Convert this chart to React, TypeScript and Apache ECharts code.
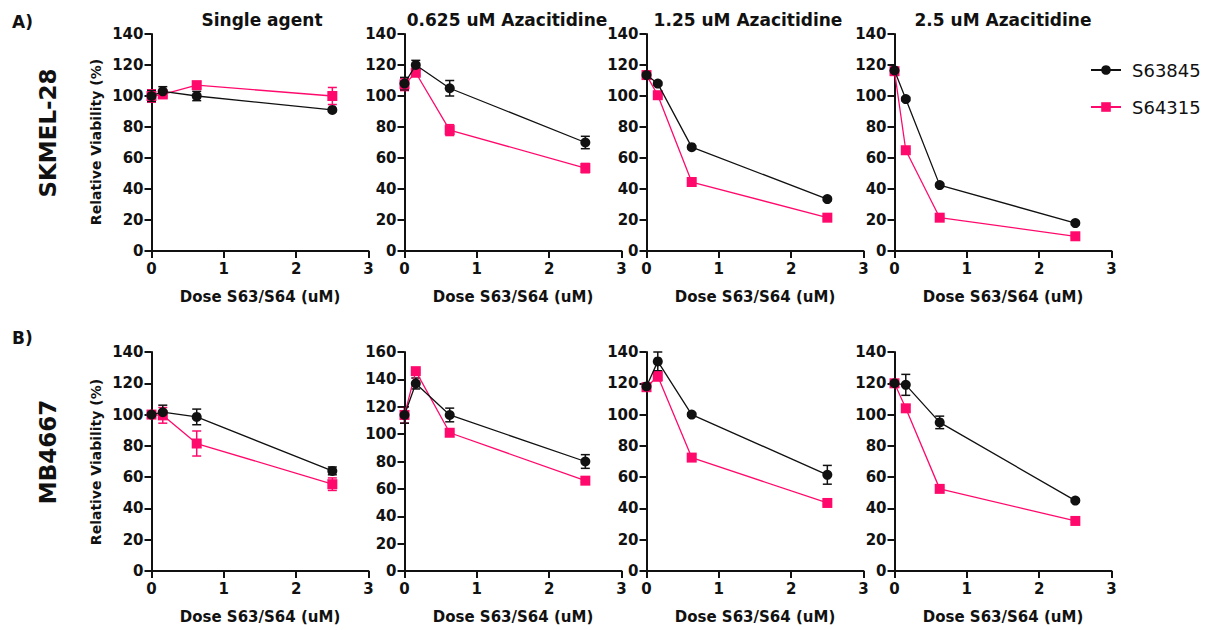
import React, { useEffect, useRef } from "react";
import * as echarts from "echarts";

const doses = [0, 0.156, 0.625, 2.5];
const panelTitles = ["Single agent", "0.625 uM Azacitidine", "1.25 uM Azacitidine", "2.5 uM Azacitidine"];
const seriesNames = ["S63845", "S64315"];
const cellLines = ["SKMEL-28", "MB4667"];
const rowTags = ["A)", "B)"];
const yMaxSkmel = [140, 140, 140, 140];
const yMaxMb = [140, 160, 140, 140];

// SKMEL-28 (row A)
const skmelS63 = [[100, 103, 100, 91], [108, 120, 105, 70], [113.5, 108, 67, 33.5], [116.5, 98, 42.5, 18]];
const skmelS63Err = [[3.5, 3, 3, 1], [4, 3, 5, 4], [1, 1, 1, 1], [1, 1, 1, 1]];
const skmelS64 = [[100, 101, 107, 100], [107.5, 115, 78, 53.5], [113.5, 100.5, 44.5, 21.5], [116, 65, 21.5, 9.5]];
const skmelS64Err = [[4, 2, 2, 5.5], [4, 1.5, 3.5, 3], [1, 1, 1, 1], [1, 1, 1, 1]];

// MB4667 (row B)
const mbS63 = [[100, 101.5, 98.5, 64], [114, 137, 114, 80], [118, 134, 100, 61.5], [120, 119, 95, 45]];
const mbS63Err = [[1.5, 4.5, 5, 2.5], [6, 4, 5, 5], [1.5, 6, 1, 6], [1, 6.7, 4, 1]];
const mbS64 = [[100, 99.5, 81.5, 55.5], [114, 146, 101, 66], [117.5, 124.5, 72.5, 43.5], [120, 104, 52.5, 32]];
const mbS64Err = [[1.5, 5, 8, 4], [6, 1, 1, 1], [1, 3, 2, 1], [1, 2, 1, 1]];

const FONT = "DejaVu Sans";
const BLACK = "#111111";
const PINK = "#FF0A6C";

export default function App() {
  const ref = useRef<HTMLDivElement>(null);
  useEffect(() => {
    const chart = echarts.init(ref.current!, null, { renderer: "svg" });
    const colLeft = [151.5, 404.5, 646.5, 894.5];
    const rowTop = [34, 352];
    const rowH = [217, 219];
    const plotW = 217;
    const rows = [
      { s63: skmelS63, e63: skmelS63Err, s64: skmelS64, e64: skmelS64Err, ymax: yMaxSkmel },
      { s63: mbS63, e63: mbS63Err, s64: mbS64, e64: mbS64Err, ymax: yMaxMb },
    ];
    const grid: any[] = [];
    const xAxis: any[] = [];
    const yAxis: any[] = [];
    const series: any[] = [];
    const errRender = (color: string) => (params: any, api: any) => {
      const x = api.value(0);
      const p1 = api.coord([x, api.value(1)]);
      const p2 = api.coord([x, api.value(2)]);
      const hw = 4.5;
      const st = { stroke: color, lineWidth: 1.5 };
      return {
        type: "group",
        children: [
          { type: "line", shape: { x1: p1[0], y1: p1[1], x2: p2[0], y2: p2[1] }, style: st },
          { type: "line", shape: { x1: p1[0] - hw, y1: p1[1], x2: p1[0] + hw, y2: p1[1] }, style: st },
          { type: "line", shape: { x1: p2[0] - hw, y1: p2[1], x2: p2[0] + hw, y2: p2[1] }, style: st },
        ],
      };
    };
    let gi = 0;
    rows.forEach((row, r) => {
      for (let c = 0; c < 4; c++) {
        grid.push({ left: colLeft[c], top: rowTop[r], width: plotW, height: rowH[r] });
        xAxis.push({
          type: "value", gridIndex: gi, min: 0, max: 3, interval: 1,
          splitLine: { show: false },
          axisLine: { show: true, onZero: false, lineStyle: { color: BLACK, width: 2 } },
          axisTick: { show: true, length: 7, lineStyle: { color: BLACK, width: 2 } },
          axisLabel: { margin: 10, fontFamily: FONT, fontWeight: "bold", fontSize: 15, color: BLACK },
          name: "Dose S63/S64 (uM)", nameLocation: "middle", nameGap: 38,
          nameTextStyle: { fontFamily: FONT, fontWeight: "bold", fontSize: 15, color: BLACK },
        });
        yAxis.push({
          type: "value", gridIndex: gi, min: 0, max: row.ymax[c], interval: 20,
          splitLine: { show: false },
          axisLine: { show: true, onZero: false, lineStyle: { color: BLACK, width: 2 } },
          axisTick: { show: true, length: 7, lineStyle: { color: BLACK, width: 2 } },
          axisLabel: { margin: 8, fontFamily: FONT, fontWeight: "bold", fontSize: 15, color: BLACK },
        });
        const d63 = doses.map((x, i) => [x, row.s63[c][i]]);
        const d64 = doses.map((x, i) => [x, row.s64[c][i]]);
        const e63 = doses.map((x, i) => [x, row.s63[c][i] - row.e63[c][i], row.s63[c][i] + row.e63[c][i]]);
        const e64 = doses.map((x, i) => [x, row.s64[c][i] - row.e64[c][i], row.s64[c][i] + row.e64[c][i]]);
        series.push({
          type: "custom", xAxisIndex: gi, yAxisIndex: gi, renderItem: errRender(PINK),
          data: e64, encode: { x: 0, y: [1, 2] }, z: 2, silent: true,
        });
        series.push({
          type: "custom", xAxisIndex: gi, yAxisIndex: gi, renderItem: errRender(BLACK),
          data: e63, encode: { x: 0, y: [1, 2] }, z: 2, silent: true,
        });
        series.push({
          name: seriesNames[1], type: "line", xAxisIndex: gi, yAxisIndex: gi, data: d64,
          symbol: "rect", symbolSize: 10, lineStyle: { color: PINK, width: 1.3 },
          itemStyle: { color: PINK }, z: 3,
        });
        series.push({
          name: seriesNames[0], type: "line", xAxisIndex: gi, yAxisIndex: gi, data: d63,
          symbol: "circle", symbolSize: 10, lineStyle: { color: BLACK, width: 1.3 },
          itemStyle: { color: BLACK }, z: 4,
        });
        gi++;
      }
    });

    const titleX = [262, 507, 748, 1003];
    const graphic: any[] = [];
    panelTitles.forEach((t, i) => {
      graphic.push({
        type: "text", x: titleX[i], y: 20,
        style: { text: t, fontFamily: FONT, fontWeight: "bold", fontSize: 17, fill: BLACK, textAlign: "center", textVerticalAlign: "middle" },
      });
    });
    const tagY = [22, 338];
    const cellY = [133, 452];
    const ylabY = [142, 462];
    for (let r = 0; r < 2; r++) {
      graphic.push({
        type: "text", x: 12, y: tagY[r],
        style: { text: rowTags[r], fontFamily: FONT, fontWeight: "bold", fontSize: 17, fill: BLACK, textAlign: "left", textVerticalAlign: "middle" },
      });
      graphic.push({
        type: "text", x: 48, y: cellY[r], rotation: Math.PI / 2,
        style: { text: cellLines[r], fontFamily: FONT, fontWeight: "bold", fontSize: 23, fill: BLACK, textAlign: "center", textVerticalAlign: "middle" },
      });
      graphic.push({
        type: "text", x: 95.5, y: ylabY[r], rotation: Math.PI / 2,
        style: { text: "Relative Viability (%)", fontFamily: FONT, fontWeight: "bold", fontSize: 14, fill: BLACK, textAlign: "center", textVerticalAlign: "middle" },
      });
    }

    chart.setOption({
      animation: false,
      backgroundColor: "#ffffff",
      grid, xAxis, yAxis, series, graphic,
      legend: {
        data: seriesNames, orient: "vertical", left: 1085, top: 56,
        itemWidth: 30, itemHeight: 12, itemGap: 19,
        textStyle: { fontFamily: FONT, fontSize: 18, color: BLACK, padding: [0, 0, 0, 6] },
        selectedMode: false,
      },
    });
    return () => chart.dispose();
  }, []);
  return <div ref={ref} style={{ position: "absolute", left: 0, top: 0, width: 1214, height: 630, background: "#fff" }} />;
}
